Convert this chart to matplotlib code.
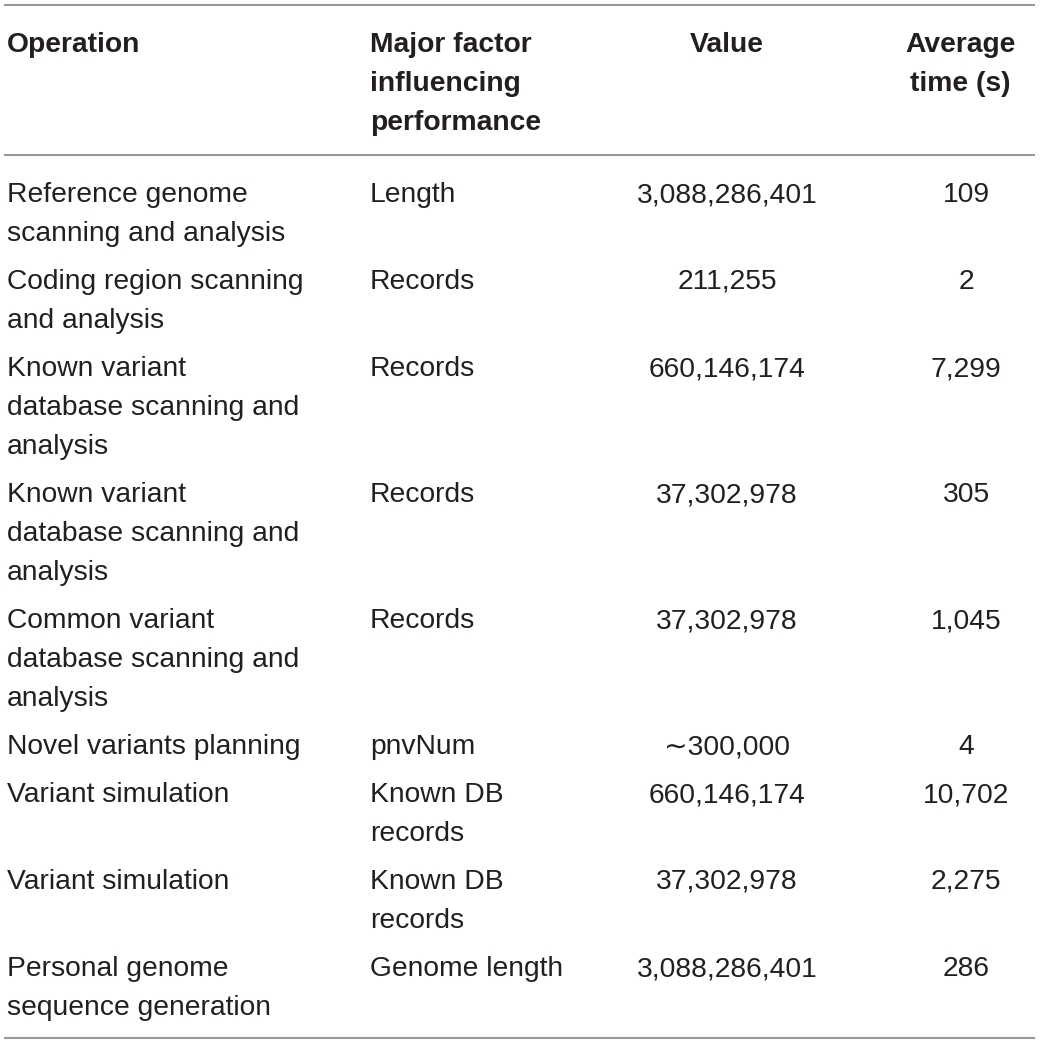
import matplotlib
matplotlib.use("Agg")
import matplotlib.pyplot as plt

headers = ["Operation", "Major factor\ninfluencing\nperformance", "Value", "Average\ntime (s)"]
operations = [
    "Reference genome\nscanning and analysis",
    "Coding region scanning\nand analysis",
    "Known variant\ndatabase scanning and\nanalysis",
    "Known variant\ndatabase scanning and\nanalysis",
    "Common variant\ndatabase scanning and\nanalysis",
    "Novel variants planning",
    "Variant simulation",
    "Variant simulation",
    "Personal genome\nsequence generation",
]
factors = ["Length", "Records", "Records", "Records", "Records", "pnvNum",
           "Known DB\nrecords", "Known DB\nrecords", "Genome length"]
values = ["3,088,286,401", "211,255", "660,146,174", "37,302,978", "37,302,978",
          "\u223c300,000", "660,146,174", "37,302,978", "3,088,286,401"]
avg_times = ["109", "2", "7,299", "305", "1,045", "4", "10,702", "2,275", "286"]

W, H = 1040, 1045
fig = plt.figure(figsize=(W / 100, H / 100), dpi=100)
ax = fig.add_axes([0, 0, 1, 1])
ax.set_xlim(0, W)
ax.set_ylim(H, 0)
ax.axis("off")

FAM = ["Liberation Sans", "DejaVu Sans"]
FS = 20.3
TXT = "#231f20"
LINE = "#9a9a9a"
LH = 39

col_x = [7, 370, 727, 966]
col_ha = ["left", "left", "center", "center"]
head_x = [7, 370, 727, 960]


def draw_cell(x, y0, text, ha, weight):
    for i, line in enumerate(text.split("\n")):
        ax.text(x, y0 + i * LH, line, ha=ha, va="baseline", fontsize=FS,
                family=FAM, fontweight=weight, color=TXT)


# rules
ax.plot([5, 1034], [5, 5], color=LINE, lw=1.5)
ax.plot([5, 1034], [155, 155], color=LINE, lw=1.5)

for j, h in enumerate(headers):
    draw_cell(head_x[j], 52, h, col_ha[j], "bold")

y = 202
for r in range(len(operations)):
    cells = [operations[r], factors[r], values[r], avg_times[r]]
    nlines = max(c.count("\n") + 1 for c in cells)
    for j, c in enumerate(cells):
        draw_cell(col_x[j], y, c, col_ha[j], "normal")
    y += nlines * LH + 9

ax.plot([5, 1034], [1038, 1038], color=LINE, lw=1.5)

fig.savefig("out.png", dpi=100, facecolor="white")
